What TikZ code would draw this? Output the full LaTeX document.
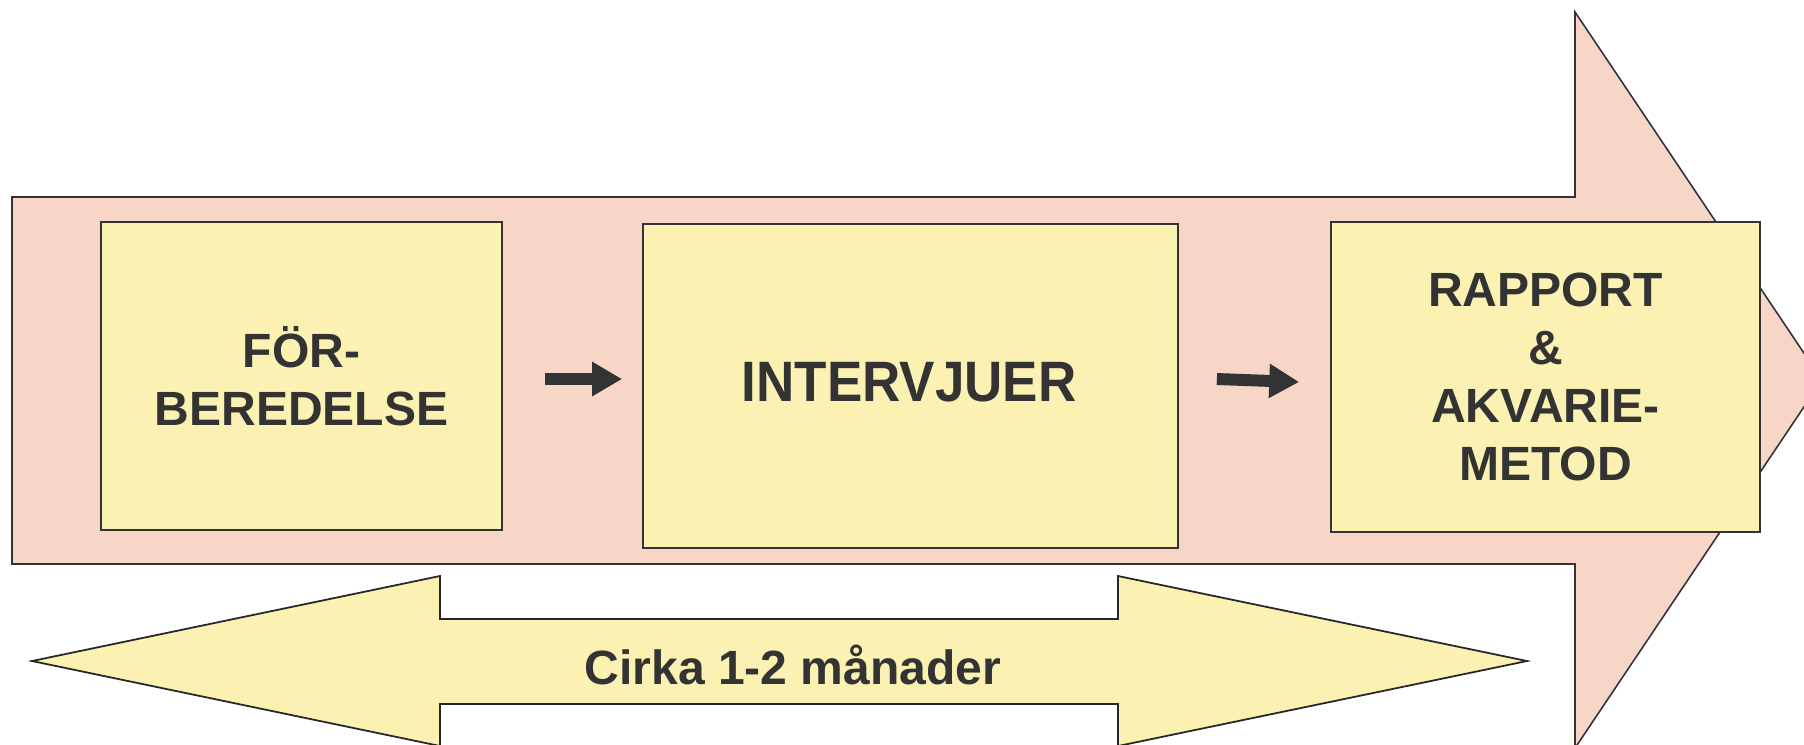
\documentclass[tikz,border=0pt]{standalone}
\usepackage{fontspec}
\usepackage{graphicx}
\setmainfont{Liberation Sans}
\usetikzlibrary{arrows.meta,calc}
\definecolor{pinkf}{RGB}{247,214,199}
\definecolor{yelf}{RGB}{251,241,178}
\definecolor{ink}{RGB}{51,51,51}
\tikzset{
  stagebox/.style={draw=ink, line width=0.5pt, fill=yelf, inner sep=0pt, align=center,
    text=ink, font=\fontsize{13.66pt}{16.5pt}\selectfont\bfseries},
  fatarrow/.style={draw=ink, line width=3.4pt, -{Triangle[length=8.5pt,width=9.2pt]}},
  bigshape/.style={draw=ink, line width=0.45pt, fill=pinkf},
  spanshape/.style={draw=black!85, line width=0.5pt, fill=yelf},
}
\begin{document}
\begin{tikzpicture}[x=0.01cm, y=-0.01cm]
\useasboundingbox (0,0) rectangle (1804,744);
\clip (0,0) rectangle (1804,744);
% big process arrow
\draw[bigshape] (12,197) -- (1575,197) -- (1575,12) -- (1822,380) -- (1575,748)
  -- (1575,564) -- (12,564) -- cycle;
% stage boxes
\node[stagebox, minimum width=401*0.01cm, minimum height=308*0.01cm] (b1) at (301.5,376)
  {FÖR-\\BEREDELSE};
\node[stagebox, minimum width=535*0.01cm, minimum height=324*0.01cm] (b2) at (910.5,386)
  {};
\node[text=ink, font=\fontsize{16.2pt}{19pt}\selectfont\bfseries] (t2) at (909,382)
  {\scalebox{0.93}[1]{INTERVJUER}};
\node[stagebox, minimum width=429*0.01cm, minimum height=310*0.01cm] (b3) at (1545.5,377)
  {RAPPORT\\\&\\AKVARIE-\\METOD};
% small arrows
\draw[fatarrow] ($(b1.east)+(42,3)$) -- ($(b2.west)+(-20,-7)$);
\draw[fatarrow] ($(b2.east)+(38,-7)$) -- ($(b3.west)+(-31,5)$);
% duration double arrow
\draw[spanshape] (32,661) -- (440,576) -- (440,619) -- (1118,619) -- (1118,576)
  -- (1527,661) -- (1118,746) -- (1118,704) -- (440,704) -- (440,746) -- cycle;
\node[anchor=base, text=ink, font=\fontsize{13.66pt}{16.5pt}\selectfont\bfseries] (dur) at (793,684)
  {Cirka 1-2 månader};
\end{tikzpicture}
\end{document}
